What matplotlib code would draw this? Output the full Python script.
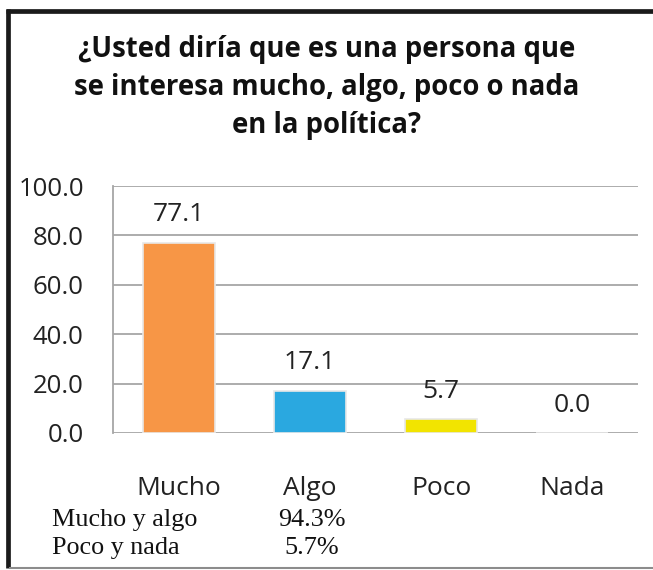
import matplotlib
matplotlib.use("Agg")
import matplotlib.pyplot as plt
from matplotlib.lines import Line2D

categories = ["Mucho", "Algo", "Poco", "Nada"]
values = [77.1, 17.1, 5.7, 0.0]
colors = ["#F79646", "#2AA8E0", "#F2E400", "#A0A0A0"]
yticks = [0, 20, 40, 60, 80, 100]
title_lines = ["¿Usted diría que es una persona que",
               "se interesa mucho, algo, poco o nada",
               "en la política?"]
summary_labels = ["Mucho y algo", "Poco y nada"]
summary_values = ["94.3%", "5.7%"]

W, H = 653, 570
fig = plt.figure(figsize=(W / 100, H / 100), dpi=100)
fig.patch.set_facecolor("white")

def fx(px):
    return px / W

def fy(py):
    return 1 - py / H

ax = fig.add_axes([fx(113), fy(433), fx(638) - fx(113), fy(186) - fy(433)])
x = list(range(len(categories)))
ax.bar(x, values, width=0.55, color=colors, edgecolor="#E8E8E8", linewidth=1.2, zorder=3)
ax.set_xlim(-0.5, len(categories) - 0.5)
ax.set_ylim(0, 100)
ax.set_yticks(yticks)
ax.set_yticklabels([f"{v:.1f}" for v in yticks])
ax.set_xticks(x)
ax.set_xticklabels(categories)
ax.yaxis.grid(True, color="#A6A6A6", linewidth=1.3, zorder=0)
ax.set_axisbelow(True)
for s in ["top", "right", "bottom"]:
    ax.spines[s].set_visible(False)
ax.spines["left"].set_color("#A6A6A6")
ax.spines["left"].set_linewidth(1.3)
ax.tick_params(axis="y", length=0, pad=21, labelsize=18.5, labelcolor="#222222")
ax.tick_params(axis="x", length=0, pad=31, labelsize=19, labelcolor="#222222")
for lab in ax.get_xticklabels() + ax.get_yticklabels():
    lab.set_family(["Open Sans", "DejaVu Sans"])

for xi, v in zip(x, values):
    ax.annotate(f"{v:.1f}", (xi, v), xytext=(0, 11), textcoords="offset points",
                ha="center", va="bottom", fontsize=19, color="#222222",
                family=["Open Sans", "DejaVu Sans"])

title_y = [50, 88, 126]
for line, ty in zip(title_lines, title_y):
    fig.text(0.5, fy(ty), line, ha="center", va="center", fontsize=19.8,
             fontweight="bold", color="#111111", family=["Open Sans", "DejaVu Sans"])

sum_y = [520, 548]
val_x = [278, 284]
for lab, val, sy, vx in zip(summary_labels, summary_values, sum_y, val_x):
    fig.text(fx(52), fy(sy), lab, ha="left", va="center", fontsize=18.8,
             family=["Liberation Serif", "DejaVu Serif"], color="#111111")
    fig.text(fx(vx), fy(sy), val, ha="left", va="center", fontsize=18.8,
             family=["Liberation Serif", "DejaVu Serif"], color="#111111")

# frame
fig.add_artist(Line2D([fx(7.5), fx(7.5)], [fy(8.5), fy(568)], color="#1A1A1A", linewidth=3.4,
                      transform=fig.transFigure, solid_capstyle="butt"))
fig.add_artist(Line2D([fx(5.8), fx(653)], [fy(10.5), fy(10.5)], color="#1A1A1A", linewidth=3.4,
                      transform=fig.transFigure, solid_capstyle="butt"))
fig.add_artist(Line2D([fx(9), fx(653)], [fy(568), fy(568)], color="#8C8C8C", linewidth=1.5,
                      transform=fig.transFigure, solid_capstyle="butt"))

fig.savefig("out.png", dpi=100, facecolor="white")
